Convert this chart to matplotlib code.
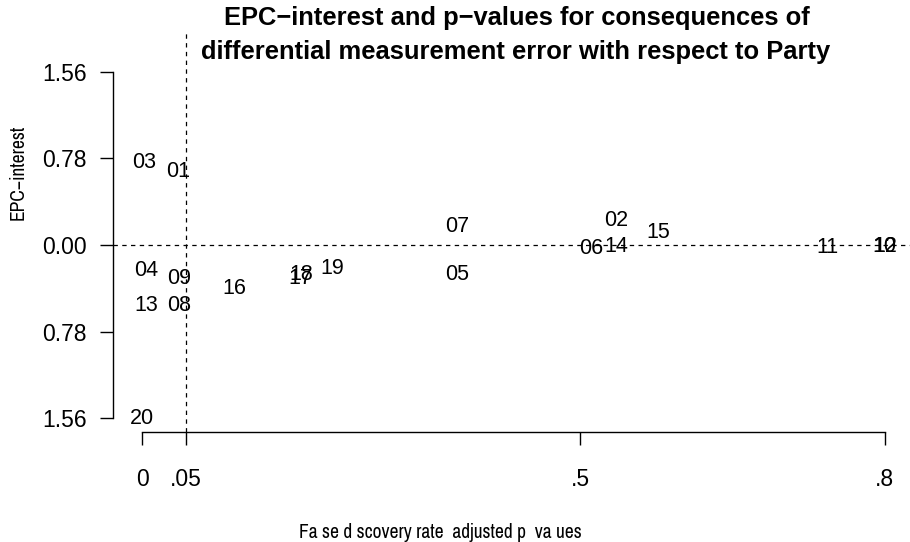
import matplotlib
matplotlib.use("Agg")
import matplotlib.pyplot as plt
from matplotlib import font_manager

plt.rcParams.update({
    "font.family": ["Liberation Sans", "DejaVu Sans"],
    "axes.linewidth": 1.0,
})

# item labels, FDR-adjusted p-values, EPC-interest
labels = ["01", "02", "03", "04", "05", "06", "07", "08", "09", "10",
          "11", "12", "13", "14", "15", "16", "17", "18", "19", "20"]
p_adj = [0.041, 0.541, 0.002, 0.004, 0.360, 0.513, 0.360, 0.042, 0.042, 0.848,
         0.783, 0.848, 0.005, 0.541, 0.589, 0.105, 0.181, 0.181, 0.217, 0.000]
epc = [0.663, 0.221, 0.748, -0.230, -0.270, -0.030, 0.167, -0.550, -0.300, -0.010,
       -0.027, -0.010, -0.546, -0.018, 0.113, -0.390, -0.300, -0.266, -0.216, -1.560]

xticks = [0, 0.05, 0.5, max(p_adj)]
xticklabels = ["0", ".05", ".5", ".8"]
yticks = [-1.56, -0.78, 0.0, 0.78, 1.56]
yticklabels = ["1.56", "0.78", "0.00", "0.78", "1.56"]

# axis titles use a narrower face in the reference
names = {f.name for f in font_manager.fontManager.ttflist}
lab_font, lab_size = ["Liberation Sans", "DejaVu Sans"], 11.6
for cand in ["Liberation Sans Narrow", "Archivo Narrow", "Roboto Condensed", "Asap Condensed"]:
    if cand in names:
        lab_font, lab_size = [cand, "DejaVu Sans"], 14
        break

W, H = 910, 542
fig = plt.figure(figsize=(W / 100, H / 100), dpi=100)
# plot region in pixels (R-style margins)
left, right, top, bottom = 112.6, 914.6, 32.0, 431.9
ax = fig.add_axes([left / W, 1 - bottom / H, (right - left) / W, (bottom - top) / H])
ax.set_xlim(-0.0339, 0.882)
ax.set_ylim(-1.685, 1.92)

for x, y, lab in zip(p_adj, epc, labels):
    ax.text(x, y, lab, ha="center", va="center", fontsize=15.5, color="black")

ax.axhline(0, color="black", lw=0.9, ls=(0, (3.5, 3.5)))
ax.axvline(0.05, color="black", lw=0.9, ls=(0, (3.5, 3.5)))

for s in ["top", "right"]:
    ax.spines[s].set_visible(False)
ax.spines["left"].set_bounds(yticks[0], yticks[-1])
ax.spines["bottom"].set_bounds(xticks[0], xticks[-1])

ax.set_xticks(xticks)
ax.set_xticklabels(xticklabels)
ax.set_yticks(yticks)
ax.set_yticklabels(yticklabels)
ax.tick_params(axis="both", direction="out", length=9.3, width=1.0, labelsize=16.5)
ax.tick_params(axis="y", pad=9.3)
ax.tick_params(axis="x", pad=16.5)

fig.text(517 / W, 1 - 18 / H, "EPC\u2212interest and p\u2212values for consequences of",
         ha="center", va="center", fontsize=18.4, fontweight="bold")
fig.text(516 / W, 1 - 52 / H, "differential measurement error with respect to Party",
         ha="center", va="center", fontsize=18.4, fontweight="bold")
fig.text(18 / W, 1 - 172 / H, "EPC\u2212interest", rotation=90,
         ha="center", va="center", fontsize=lab_size, family=lab_font)
fig.text(440 / W, 1 - 533 / H, "Fa se d scovery rate  adjusted p  va ues",
         ha="center", va="center", fontsize=lab_size, family=lab_font)

fig.savefig("out.png", dpi=100)
